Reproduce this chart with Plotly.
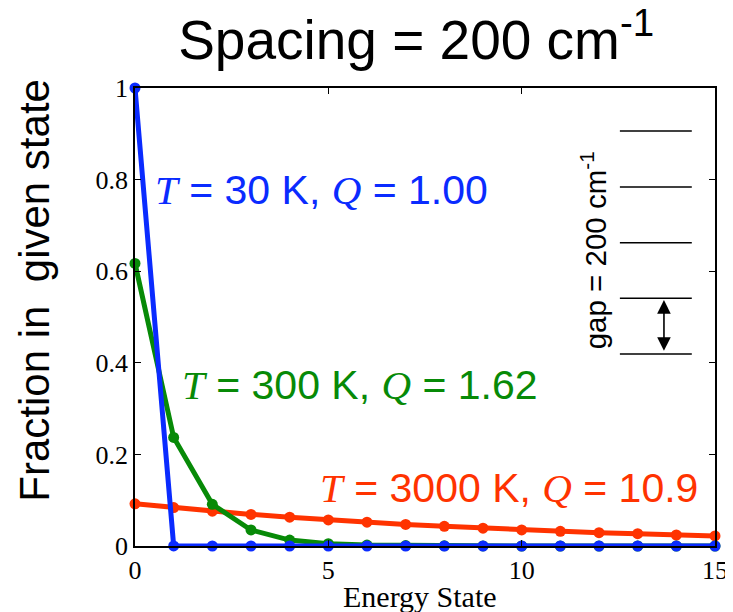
import plotly.graph_objects as go

states = list(range(16))
blue_30K = [1.0, 0.0001, 0, 0, 0, 0, 0, 0, 0, 0, 0, 0, 0, 0, 0, 0]
green_300K = [0.617, 0.237, 0.091, 0.035, 0.013, 0.005, 0.002, 0.001, 0.0003, 0.0001, 0, 0, 0, 0, 0, 0]
red_3000K = [0.092, 0.084, 0.076, 0.069, 0.063, 0.057, 0.052, 0.047, 0.043, 0.039,
             0.035, 0.032, 0.029, 0.027, 0.024, 0.022]
x_ticks = [0, 5, 10, 15]
y_ticks = [0, 0.2, 0.4, 0.6, 0.8, 1]
y_tick_labels = ["0", "0.2", "0.4", "0.6", "0.8", "1"]
level_y = [0.419, 0.541, 0.662, 0.784, 0.906]

BLUE = "#0a2bff"
GREEN = "#078a07"
RED = "#ff3300"
SERIF = "Liberation Serif"
SANS = "Liberation Sans"

fig = go.Figure()
for ys, c in [(red_3000K, RED), (green_300K, GREEN), (blue_30K, BLUE)]:
    fig.add_trace(go.Scatter(x=states, y=ys, mode="lines+markers",
                             line=dict(color=c, width=5),
                             marker=dict(color=c, size=11, symbol="circle"),
                             showlegend=False, cliponaxis=False))

def lab(T, Q, color):
    it = "<span style='font-family:Liberation Serif'><i>%s</i></span>"
    return (it % "T") + " = %s K, " % T + (it % "Q") + " = %s" % Q

annots = [
    dict(x=0.47, y=0.777, text=lab("30", "1.00", BLUE), color=BLUE),
    dict(x=1.16, y=0.352, text=lab("300", "1.62", GREEN), color=GREEN),
    dict(x=4.73, y=0.127, text=lab("3000", "10.9", RED), color=RED),
]
for a in annots:
    fig.add_annotation(x=a["x"], y=a["y"], xref="x", yref="y", text=a["text"],
                       showarrow=False, xanchor="left", yanchor="middle",
                       font=dict(family=SANS, size=41, color=a["color"]))

shapes = []
for ly in level_y:
    shapes.append(dict(type="line", xref="x", yref="y", x0=12.54, x1=14.40, y0=ly, y1=ly,
                       line=dict(color="black", width=1.5)))
fig.update_layout(shapes=shapes)

# double-headed arrow for the gap
fig.add_annotation(x=13.68, y=level_y[1] - 0.004, ax=13.68, ay=level_y[0] + 0.004,
                   xref="x", yref="y", axref="x", ayref="y", text="",
                   showarrow=True, arrowhead=2, startarrowhead=2, arrowside="end+start",
                   arrowsize=1.7, startarrowsize=1.7, arrowwidth=1.6, arrowcolor="black")
fig.add_annotation(x=11.85, y=0.646, xref="x", yref="y", text="gap = 200 cm<sup>-1</sup>",
                   showarrow=False, textangle=-90, xanchor="center", yanchor="middle",
                   font=dict(family=SANS, size=29.5, color="black"))

# axis titles as annotations
fig.add_annotation(x=-0.173, y=0.559, xref="paper", yref="paper", text="Fraction in  given state",
                   showarrow=False, textangle=-90, xanchor="center", yanchor="middle",
                   font=dict(family=SANS, size=42, color="black"))
fig.add_annotation(x=0.491, y=-0.111, xref="paper", yref="paper", text="Energy State",
                   showarrow=False, xanchor="center", yanchor="middle",
                   font=dict(family=SERIF, size=30, color="black"))

# the page has an 8px body margin, so the figure is sized/offset for it
fig.update_layout(
    width=725, height=604,
    margin=dict(l=127, r=18, t=80, b=66),
    paper_bgcolor="white", plot_bgcolor="white",
    title=dict(text="Spacing = 200 cm<sup>-1</sup>", x=0.563, xanchor="center",
               y=0.947, yanchor="middle", font=dict(family=SANS, size=55, color="black")),
    xaxis=dict(range=[0, 15], tickvals=x_ticks, ticktext=[str(v) for v in x_ticks],
               automargin=False,
               showgrid=False, zeroline=False, showline=True, linecolor="black", linewidth=1.5,
               mirror="ticks", ticks="inside", ticklen=6, tickcolor="black",
               tickfont=dict(family=SERIF, size=26, color="black")),
    yaxis=dict(range=[0, 1], tickvals=y_ticks, ticktext=y_tick_labels,
               automargin=False,
               showgrid=False, zeroline=False, showline=True, linecolor="black", linewidth=1.5,
               mirror="ticks", ticks="inside", ticklen=6, tickcolor="black",
               tickfont=dict(family=SERIF, size=26, color="black")),
)

fig.write_html("out.html")
